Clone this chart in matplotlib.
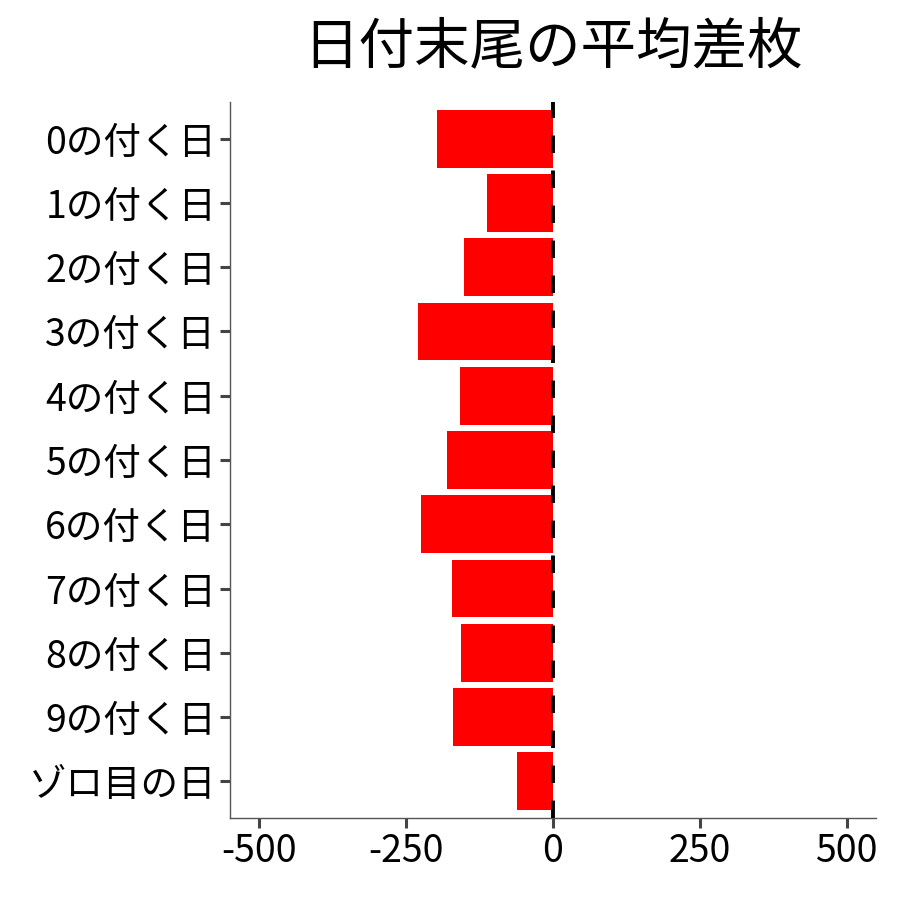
import matplotlib
matplotlib.use("Agg")
import matplotlib.pyplot as plt

plt.rcParams['font.family'] = ['Noto Sans CJK JP', 'DejaVu Sans']

# data
labels = ["0の付く日", "1の付く日", "2の付く日", "3の付く日", "4の付く日",
          "5の付く日", "6の付く日", "7の付く日", "8の付く日", "9の付く日", "ゾロ目の日"]
values = [-198, -113, -151, -230, -158, -181, -224, -172, -156, -170, -62]
xticks = [-500, -250, 0, 250, 500]
title = "日付末尾の平均差枚"

fig = plt.figure(figsize=(9, 9), dpi=100)
ax = fig.add_axes([0.2556, 0.0911, 0.7178, 0.7956])

y = list(range(len(labels)))
ax.barh(y, values, height=0.9, color="#FF0000", zorder=2)
ax.axvline(0, color="black", linewidth=2.8, linestyle=(0, (4.5, 4.5)), zorder=3)

ax.set_xlim(-550, 550)
ax.set_ylim(len(labels) - 1 + 0.57, -0.57)
ax.set_yticks(y)
ax.set_yticklabels(labels)
ax.set_xticks(xticks)
ax.set_xticklabels([str(v) for v in xticks])

for s in ["top", "right"]:
    ax.spines[s].set_visible(False)
for s in ["left", "bottom"]:
    ax.spines[s].set_color("#555555")
    ax.spines[s].set_linewidth(1.0)

ax.tick_params(axis="both", length=7, width=2.2, color="#444444",
               labelsize=27, labelcolor="black", pad=3)

ax.set_title(title, fontsize=40, pad=28)

fig.savefig("out.png", dpi=100)
